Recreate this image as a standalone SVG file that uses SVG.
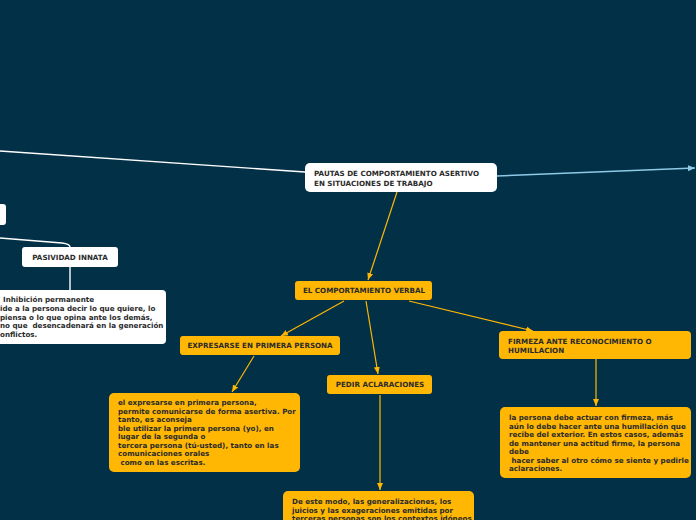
<svg xmlns="http://www.w3.org/2000/svg" width="696" height="520" viewBox="0 0 696 520">
<defs>
<style>
.bg{fill:#023047}
.wn{fill:#ffffff}
.on{fill:#ffb703}
.t{font-family:"DejaVu Sans",Verdana,sans-serif;font-weight:bold;font-size:7.15px;fill:#2b2b2b;white-space:pre}
.c{text-anchor:middle}
.ow{stroke:#ffb703;stroke-width:1.2;fill:none}
.ww{stroke:#ffffff;stroke-width:1.4;fill:none}
.bw{stroke:#8ecae6;stroke-width:1.4;fill:none}
</style>
<marker id="ao" markerWidth="8" markerHeight="8" refX="7" refY="4" orient="auto" markerUnits="userSpaceOnUse">
<path d="M0,1 L7,4 L0,7 Z" fill="#ffb703"/>
</marker>
<marker id="ab" markerWidth="8" markerHeight="8" refX="7" refY="4" orient="auto" markerUnits="userSpaceOnUse">
<path d="M0,1 L7,4 L0,7 Z" fill="#8ecae6"/>
</marker>
</defs>
<rect class="bg" x="0" y="0" width="696" height="520"/>
<g id="connectors">
<path class="ww" d="M305,172 L0,151"/>
<path class="bw" d="M497,176 L695,168" marker-end="url(#ab)"/>
<path class="ww" d="M0,238 L62,243 Q70,244 70,247"/>
<path class="ww" d="M70,267 L70,291"/>
<path class="ow" d="M397,192 L368,280" marker-end="url(#ao)"/>
<path class="ow" d="M344,301 L281,336" marker-end="url(#ao)"/>
<path class="ow" d="M366,301 L378,374" marker-end="url(#ao)"/>
<path class="ow" d="M409,301 L533,331" marker-end="url(#ao)"/>
<path class="ow" d="M254,356 L232,392" marker-end="url(#ao)"/>
<path class="ow" d="M380,395 L380,490" marker-end="url(#ao)"/>
<path class="ow" d="M596,359 L596,406" marker-end="url(#ao)"/>
</g>
<g id="n-main">
<rect class="wn" x="305" y="163" width="192" height="29" rx="5"/>
<text class="t" x="314" y="176">PAUTAS DE COMPORTAMIENTO ASERTIVO</text>
<text class="t" x="314" y="186">EN SITUACIONES DE TRABAJO</text>
</g>
<g id="n-left">
<rect class="wn" x="-8" y="204" width="14" height="21" rx="3"/>
</g>
<g id="n-pasividad">
<rect class="wn" x="22" y="247" width="96" height="20" rx="3"/>
<text class="t c" x="70" y="260">PASIVIDAD INNATA</text>
</g>
<g id="n-inhibicion">
<rect class="wn" x="-10" y="290" width="176" height="54" rx="4"/>
<text class="t" x="3" y="302">Inhibición permanente</text>
<text class="t" x="0" y="311">ide a la persona decir lo que quiere, lo</text>
<text class="t" x="0" y="319.5">piensa o lo que opina ante los demás,</text>
<text class="t" x="0" y="328">no que  desencadenará en la generación</text>
<text class="t" x="0" y="336.5">onflictos.</text>
</g>
<g id="n-verbal">
<rect class="on" x="295" y="281" width="137" height="19" rx="3"/>
<text class="t c" x="364" y="293">EL COMPORTAMIENTO VERBAL</text>
</g>
<g id="n-expresarse">
<rect class="on" x="180" y="336" width="160" height="19" rx="3"/>
<text class="t c" x="260" y="348">EXPRESARSE EN PRIMERA PERSONA</text>
</g>
<g id="n-pedir">
<rect class="on" x="327" y="375" width="105" height="19" rx="3"/>
<text class="t c" x="380" y="387">PEDIR ACLARACIONES</text>
</g>
<g id="n-firmeza">
<rect class="on" x="499" y="331" width="192" height="28" rx="4"/>
<text class="t" x="508" y="344">FIRMEZA ANTE RECONOCIMIENTO O</text>
<text class="t" x="508" y="352.5">HUMILLACION</text>
</g>
<g id="n-texto1">
<rect class="on" x="109" y="393" width="191" height="79" rx="5"/>
<text class="t" x="118" y="405">el expresarse en primera persona,</text>
<text class="t" x="118" y="413.5">permite comunicarse de forma asertiva. Por</text>
<text class="t" x="118" y="422">tanto, es aconseja</text>
<text class="t" x="118" y="430.5">ble utilizar la primera persona (yo), en</text>
<text class="t" x="118" y="439">lugar de la segunda o</text>
<text class="t" x="118" y="447.5">tercera persona (tú-usted), tanto en las</text>
<text class="t" x="118" y="456">comunicaciones orales</text>
<text class="t" x="118" y="464.5"> como en las escritas.</text>
</g>
<g id="n-texto2">
<rect class="on" x="500" y="407" width="191" height="71" rx="5"/>
<text class="t" x="509" y="420">la persona debe actuar con firmeza, más</text>
<text class="t" x="509" y="428.5">aún lo debe hacer ante una humillación que</text>
<text class="t" x="509" y="437">recibe del exterior. En estos casos, además</text>
<text class="t" x="509" y="445.5">de mantener una actitud firme, la persona</text>
<text class="t" x="509" y="454">debe</text>
<text class="t" x="509" y="462.5"> hacer saber al otro cómo se siente y pedirle</text>
<text class="t" x="509" y="471">aclaraciones.</text>
</g>
<g id="n-texto3">
<rect class="on" x="283" y="491" width="191" height="40" rx="5"/>
<text class="t" x="292" y="504">De este modo, las generalizaciones, los</text>
<text class="t" x="292" y="512.5">juicios y las exageraciones emitidas por</text>
<text class="t" x="292" y="521">terceras personas son los contextos idóneos</text>
</g>
</svg>
